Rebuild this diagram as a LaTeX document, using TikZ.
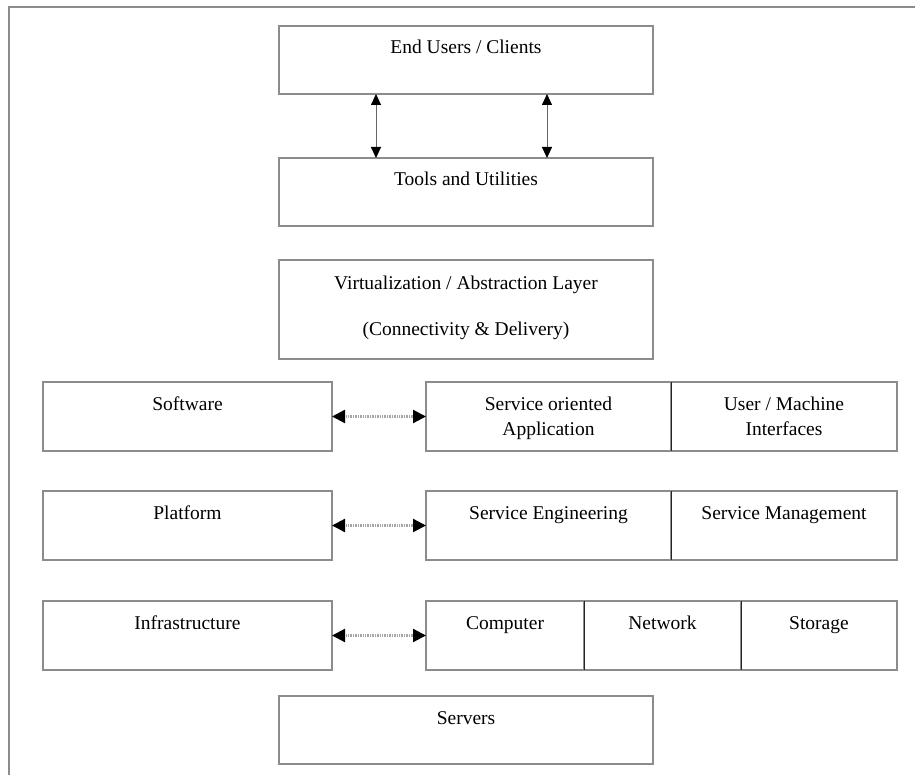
\documentclass[tikz,border=0pt]{standalone}
\usepackage{fontspec}
\setmainfont{Liberation Serif}
\usetikzlibrary{positioning,arrows.meta}
\tikzset{
  layer/.style={rectangle, draw=black!45, line width=1.2pt, fill=white, inner sep=0pt,
    outer sep=0pt, anchor=north west, align=center, text height=28pt},
  wide/.style={layer, minimum width=374pt, text depth=40pt},
  cell/.style={layer, text depth=41pt},
  twoline/.style={text height=53pt, text depth=16pt},
  divider/.style={draw=black!85, line width=1pt},
  frame/.style={draw=black!45, line width=1.3pt},
  linkOp/.style={black!60, line width=0.9pt, {Triangle[length=11pt,width=10pt,color=black]}-{Triangle[length=11pt,width=10pt,color=black]}},
  mapOp/.style={black!35, line width=2.2pt, dash pattern=on 1pt off 0.7pt, {Triangle[length=13pt,width=13pt,color=black]}-{Triangle[length=13pt,width=13pt,color=black]}}
}

\begin{document}
\begin{tikzpicture}[x=1pt, y=-1pt, font={\fontsize{19.5}{25}\selectfont}]
  \useasboundingbox (0,0) rectangle (915,775);
  \draw[frame] (9,775) -- (9,7) -- (915,7);

  % top column
  \node [wide] (users) at (279,26) {End Users / Clients};
  \node [wide] (tools) at (279,158) {Tools and Utilities};
  \node [wide, text height=76pt, text depth=23pt] (virt) at (279,260)
    {Virtualization / Abstraction Layer\\[22pt](Connectivity \& Delivery)};

  % service rows
  \node [cell, minimum width=289pt] (soft) at (43,382) {Software};
  \node [cell, twoline, minimum width=245pt] (soa) at (426,382) {Service oriented\\Application};
  \node [cell, twoline, minimum width=226pt, right=0pt of soa.north east, anchor=north west] (umi) {User / Machine\\Interfaces};

  \node [cell, minimum width=289pt] (plat) at (43,491) {Platform};
  \node [cell, minimum width=245pt] (seng) at (426,491) {Service Engineering};
  \node [cell, minimum width=226pt, right=0pt of seng.north east, anchor=north west] (smgmt) {Service Management};

  \node [cell, minimum width=289pt] (infra) at (43,601) {Infrastructure};
  \node [cell, minimum width=158pt] (comp) at (426,601) {Computer};
  \node [cell, minimum width=157pt, right=0pt of comp.north east, anchor=north west] (net) {Network};
  \node [cell, minimum width=156pt, right=0pt of net.north east, anchor=north west] (stor) {Storage};

  \node [wide] (servers) at (279,696) {Servers};

  % cell dividers
  \draw[divider] (soa.north east) -- (soa.south east);
  \draw[divider] (seng.north east) -- (seng.south east);
  \draw[divider] (comp.north east) -- (comp.south east);
  \draw[divider] (net.north east) -- (net.south east);

  % connectors
  \coordinate (c1) at ([xshift=97pt]users.south west);
  \coordinate (c2) at ([xshift=-106pt]users.south east);
  \draw[linkOp] (c1) -- (c1 |- tools.north);
  \draw[linkOp] (c2) -- (c2 |- tools.north);
  \draw[mapOp] (soft.east) -- (soa.west);
  \draw[mapOp] (plat.east) -- (seng.west);
  \draw[mapOp] (infra.east) -- (comp.west);
\end{tikzpicture}
\end{document}
